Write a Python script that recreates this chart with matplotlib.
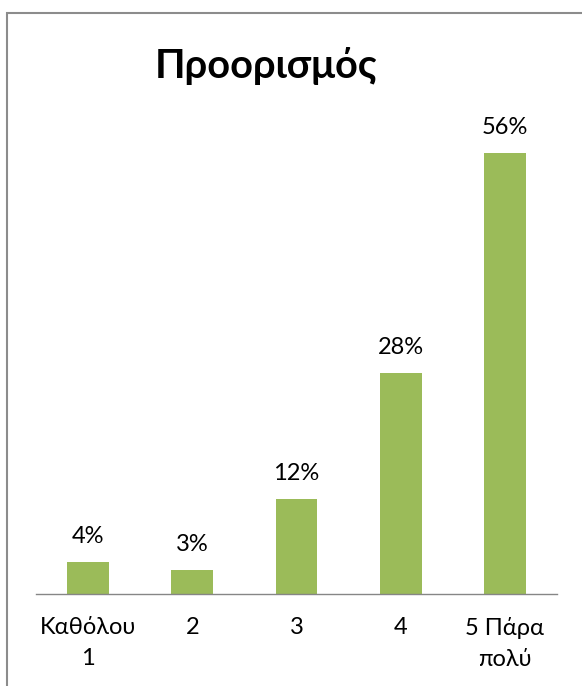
import matplotlib
matplotlib.use("Agg")
import matplotlib.pyplot as plt
from matplotlib.patches import Rectangle

# Ratings for "Προορισμός" (percent of answers)
categories = ["Καθόλου\n1", "2", "3", "4", "5 Πάρα\nπολύ"]
values = [4, 3, 12, 28, 56]
value_labels = ["4%", "3%", "12%", "28%", "56%"]

plt.rcParams["font.family"] = ["Lato", "DejaVu Sans"]

W, H, DPI = 582, 686, 100
fig = plt.figure(figsize=(W / DPI, H / DPI), dpi=DPI)
fig.patch.set_facecolor("white")

# plot area in pixel terms
left, right, bottom, top = 36, 557, 593.5, 121.5
ax = fig.add_axes([left / W, 1 - bottom / H, (right - left) / W, (bottom - top) / H])

x = list(range(len(categories)))
bars = ax.bar(x, values, width=0.4, color="#9BBB59", edgecolor="none")
ax.set_xlim(-0.5, len(categories) - 0.5)
ax.set_ylim(0, 60)

ax.bar_label(bars, labels=value_labels, padding=11, fontsize=17, color="black")

ax.set_xticks(x)
ax.set_xticklabels(categories, fontsize=17, linespacing=1.6)
ax.tick_params(axis="x", length=0, pad=17)
ax.set_yticks([])
for side in ("left", "right", "top"):
    ax.spines[side].set_visible(False)
ax.spines["bottom"].set_color("#868686")
ax.spines["bottom"].set_linewidth(1.0)

# title
fig.text(266 / W, 1 - 78 / H, "Προορισμός", ha="center", va="baseline",
         fontsize=28.5, fontweight="bold", color="black")

# chart frame (continues past the right and bottom edges)
frame = Rectangle((7 / W, -0.2), 1.2, 1 - 13 / H + 0.2, transform=fig.transFigure,
                  fill=False, edgecolor="#8c8c8c", linewidth=1.5)
fig.patches.append(frame)

fig.savefig("out.png", dpi=DPI, facecolor="white")
